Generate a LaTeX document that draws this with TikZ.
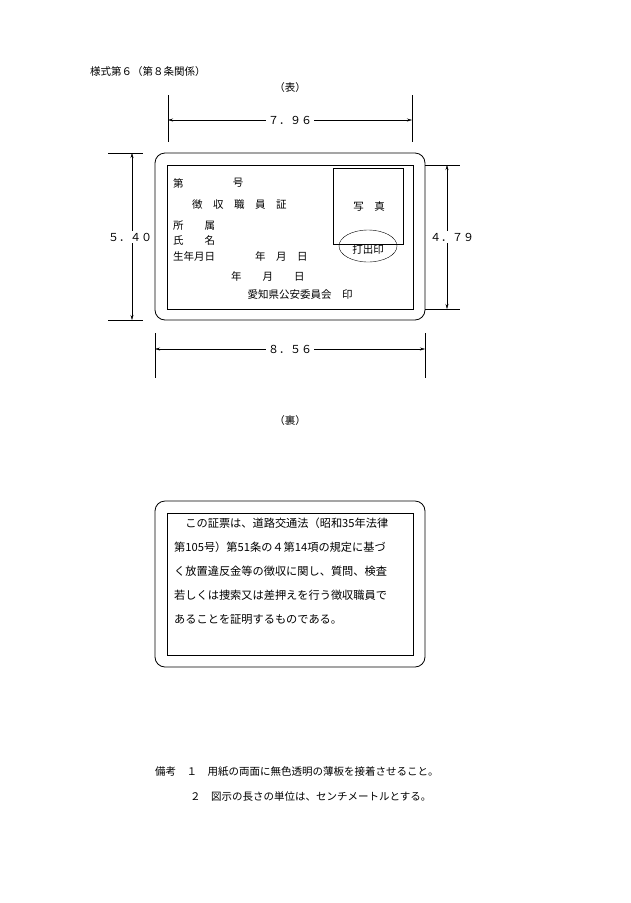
\documentclass[tikz,border=0pt]{standalone}
\usepackage{fontspec}
\setmainfont{Noto Sans CJK JP}
\usetikzlibrary{arrows.meta}

\begin{document}
\begin{tikzpicture}[
    x=1pt, y=-1pt,
    >={Stealth[length=5pt, width=3pt]},
    card/.style={draw, thick, rounded corners=10pt},
    frame/.style={draw, thin},
    dimline/.style={<->, thin},
    extline/.style={thin},
    dimlabel/.style={fill=white, inner sep=2pt, font=\fontsize{11}{13}\selectfont},
    every node/.style={font=\fontsize{10.5}{13}\selectfont, inner sep=0pt}
]
    \useasboundingbox (0,0) rectangle (630,903);

    % === Headings ===
    \node[anchor=west] (title) at (90,72) {様式第６（第８条関係）};
    \node (front) at (290,88) {（表）};
    \node (back) at (290,421) {（裏）};

    % === Front card ===
    \draw[card] (155,153) rectangle (425,320);
    \draw[frame] (167,165) rectangle (413,309);
    \draw[frame] (333,168) rectangle (403,244);
    \draw[frame, fill=white] (368,246) ellipse (29 and 16);
    \draw[frame] (333,168) -- (333,244) -- (403,244) -- (403,168);
    \node (stamp) at (368,250) {打出印};
    \node (photo) at (369,207) {写\quad 真};

    \node[anchor=west] (no) at (173,183) {第};
    \node (go) at (238,183) {号};
    \node[anchor=west] (idname) at (192,205) {徴\quad 収\quad 職\quad 員\quad 証};
    \node[anchor=west] (dept) at (173,226) {所\qquad 属};
    \node[anchor=west] (name) at (173,241) {氏\qquad 名};
    \node[anchor=west] (birth) at (173,256) {生年月日};
    \node[anchor=west] (bdate) at (255,256) {年\quad 月\quad 日};
    \node[anchor=west] (idate) at (231,276) {年\qquad 月\qquad 日};
    \node (issuer) at (300,295) {愛知県公安委員会\quad 印};

    % === Dimensions ===
    \coordinate (t1) at (168,95);  \coordinate (t2) at (412,95);
    \draw[extline] (t1) -- (168,142);
    \draw[extline] (t2) -- (412,142);
    \draw[dimline] (168,120) -- (412,120);
    \node[dimlabel] (w796) at (290,120) {７．９６};

    \draw[extline] (108,153) -- (143,153);
    \draw[extline] (108,320) -- (143,320);
    \draw[dimline] (132,153) -- (132,320);
    \node[dimlabel] (h540) at (130,237) {５．４０};

    \draw[extline] (425,165) -- (460,165);
    \draw[extline] (425,309) -- (460,309);
    \draw[dimline] (447,165) -- (447,309);
    \node[dimlabel] (h479) at (452,237) {４．７９};

    \draw[extline] (155,333) -- (155,378);
    \draw[extline] (425,333) -- (425,378);
    \draw[dimline] (155,349) -- (425,349);
    \node[dimlabel] (w856) at (290,349) {８．５６};

    % === Back card ===
    \draw[card] (155,501) rectangle (425,667);
    \draw[frame] (167,513) rectangle (413,655);
    \node[anchor=north west, align=left, font=\fontsize{11.2}{24}\selectfont] (bodytext) at (174,518)
        {\hspace{1em}この証票は、道路交通法（昭和35年法律\\
         第105号）第51条の４第14項の規定に基づ\\
         く放置違反金等の徴収に関し、質問、検査\\
         若しくは捜索又は差押えを行う徴収職員で\\
         あることを証明するものである。};

    % === Remarks ===
    \node[anchor=west] (note1) at (155,772) {備考\quad １\quad 用紙の両面に無色透明の薄板を接着させること。};
    \node[anchor=west] (note2) at (190,797) {２\quad 図示の長さの単位は、センチメートルとする。};
\end{tikzpicture}
\end{document}
